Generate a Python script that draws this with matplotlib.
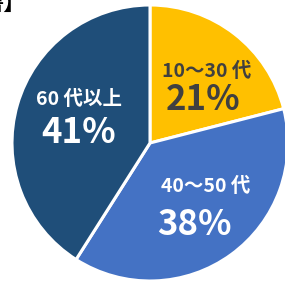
import matplotlib
matplotlib.use("Agg")
import matplotlib.pyplot as plt

plt.rcParams['font.family'] = ['Noto Sans CJK JP', 'DejaVu Sans']

categories = ["10〜30 代", "40〜50 代", "60 代以上"]
shares = [21, 38, 41]
pct_labels = ["21%", "38%", "41%"]
colors = ["#FFC000", "#4472C4", "#1F4E79"]
text_colors = ["#404040", "white", "white"]

W, H = 285, 281
fig = plt.figure(figsize=(W / 100, H / 100), dpi=100)
fig.patch.set_facecolor("white")

cx, cy, r = 150, 143, 138
ax = fig.add_axes([(cx - r) / W, (H - cy - r) / H, 2 * r / W, 2 * r / H])
wedges, _ = ax.pie(shares, colors=colors, startangle=90, counterclock=False,
                   radius=1, wedgeprops=dict(edgecolor="white", linewidth=2.2))
ax.set_xlim(-1, 1)
ax.set_ylim(-1, 1)
ax.set_aspect("equal")
ax.axis("off")

# label positions in data coords (baseline), estimated from reference
cat_pos = [(0.409, 0.478), (0.406, -0.355), (-0.511, 0.275)]
pct_pos = [(0.388, 0.239), (0.322, -0.667), (-0.518, 0.0)]
for i in range(3):
    ax.text(*cat_pos[i], categories[i], ha="center", va="baseline",
            fontsize=14, fontweight="bold", color=text_colors[i])
    ax.text(*pct_pos[i], pct_labels[i], ha="center", va="baseline",
            fontsize=25, fontweight="bold", color=text_colors[i])

fig.text(26 / W, 1 - 10 / H, "書】", ha="right", va="baseline",
         fontsize=16, fontweight="bold", color="black")

fig.savefig("out.png", dpi=100, facecolor="white")
